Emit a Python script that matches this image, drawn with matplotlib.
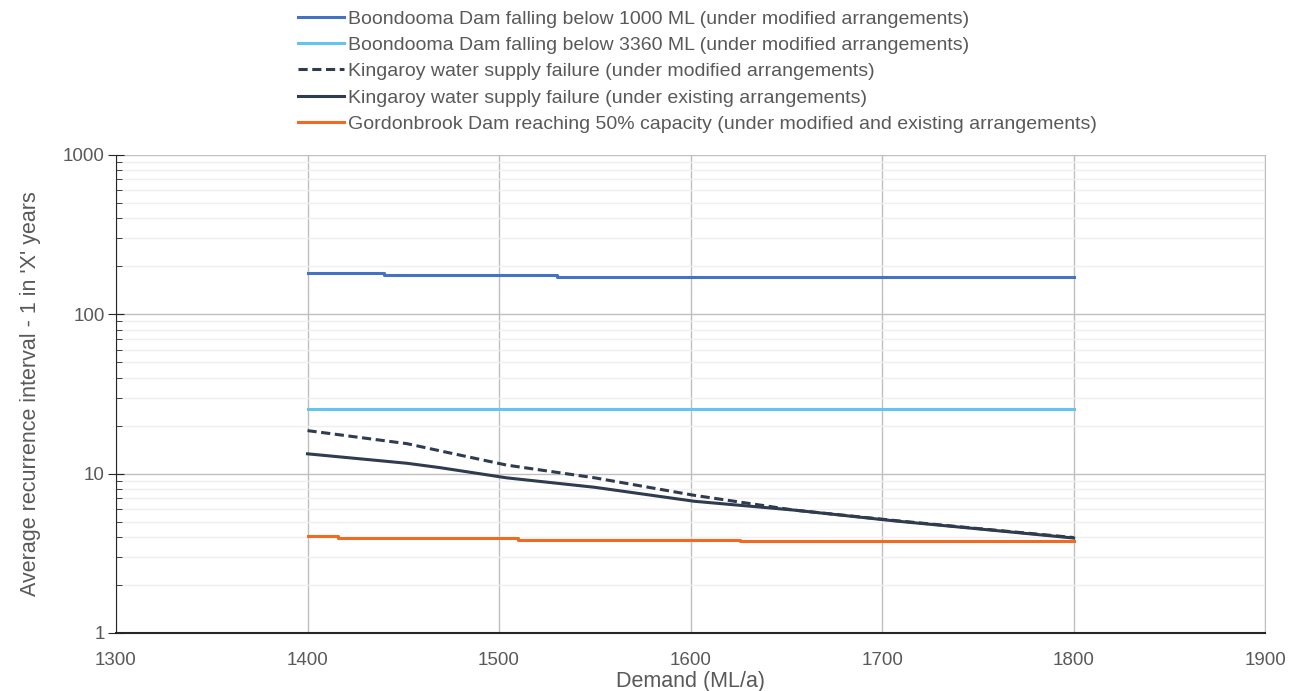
import numpy as np
import matplotlib.pyplot as plt
from matplotlib.ticker import LogLocator, FixedLocator, NullFormatter

# Boondooma Dam falling below 1000 ML (stepped)
boon1000_x = [1400, 1440, 1530, 1800]
boon1000_y = [180, 176, 172, 172]

# Boondooma Dam falling below 3360 ML
boon3360_x = [1400, 1800]
boon3360_y = [25.5, 25.5]

# Kingaroy water supply failure
king_x = [1400, 1452, 1469, 1504, 1550, 1602, 1654, 1707, 1750, 1800]
king_mod_y = [18.6, 15.4, 13.9, 11.3, 9.4, 7.3, 5.9, 5.07, 4.52, 3.97]
king_exist_y = [13.3, 11.6, 10.9, 9.4, 8.2, 6.7, 5.9, 5.04, 4.5, 3.94]

# Gordonbrook Dam reaching 50% capacity (stepped)
gord_x = [1400, 1416, 1510, 1626, 1800]
gord_y = [4.05, 3.95, 3.85, 3.75, 3.75]

labels = [
    'Boondooma Dam falling below 1000 ML (under modified arrangements)',
    'Boondooma Dam falling below 3360 ML (under modified arrangements)',
    'Kingaroy water supply failure (under modified arrangements)',
    'Kingaroy water supply failure (under existing arrangements)',
    'Gordonbrook Dam reaching 50% capacity (under modified and existing arrangements)',
]

plt.rcParams['font.family'] = ['Liberation Sans', 'DejaVu Sans']
grey = '#595959'

fig = plt.figure(figsize=(13.03, 6.91), dpi=100)
ax = fig.add_axes([0.089, 0.084, 0.882, 0.692])

lw = 2.2
ax.plot(boon1000_x, boon1000_y, color='#4472C4', lw=lw, drawstyle='steps-post', label=labels[0])
ax.plot(boon3360_x, boon3360_y, color='#65C3F0', lw=lw, label=labels[1])
ax.plot(king_x, king_mod_y, color='#2F3B4E', lw=lw, ls=(0, (3, 1.5)), label=labels[2])
ax.plot(king_x, king_exist_y, color='#2F3B4E', lw=lw, label=labels[3])
ax.plot(gord_x, gord_y, color='#F26A21', lw=lw, drawstyle='steps-post', label=labels[4])

ax.set_yscale('log')
ax.set_ylim(1, 1000)
ax.set_xlim(1300, 1900)
ax.xaxis.set_major_locator(FixedLocator([1300, 1400, 1500, 1600, 1700, 1800, 1900]))
ax.yaxis.set_minor_locator(LogLocator(base=10, subs=np.arange(2, 10), numticks=10))
ax.yaxis.set_minor_formatter(NullFormatter())
ax.set_yticks([1, 10, 100, 1000])
ax.set_yticklabels(['1', '10', '100', '1000'])

ax.grid(True, which='major', color='#BFBFBF', lw=1.0)
ax.grid(True, which='minor', axis='y', color='#EFEFEF', lw=1.0)
ax.set_axisbelow(True)

ax.spines['top'].set_visible(False)
ax.spines['right'].set_color('#BFBFBF')
ax.spines['left'].set_color('#262626')
ax.spines['bottom'].set_color('#262626')
ax.spines['bottom'].set_linewidth(1.5)
ax.tick_params(axis='y', which='major', direction='inout', length=12, color='#262626',
               labelcolor=grey, labelsize=13.5, pad=2)
ax.tick_params(axis='y', which='minor', direction='in', length=4, color='#262626')
ax.tick_params(axis='x', length=0, labelcolor=grey, labelsize=13.5, pad=14)

ax.set_xlabel('Demand (ML/a)', color=grey, fontsize=15.5, labelpad=1)
ax.set_ylabel("Average recurrence interval - 1 in 'X' years", color=grey, fontsize=15.5, labelpad=16)

fig.legend(loc='upper left', bbox_to_anchor=(0.215, 1.011), frameon=False, fontsize=14,
           labelcolor=grey, handlelength=2.4, handletextpad=0.2, labelspacing=0.45)

fig.savefig('out.png', dpi=100)
